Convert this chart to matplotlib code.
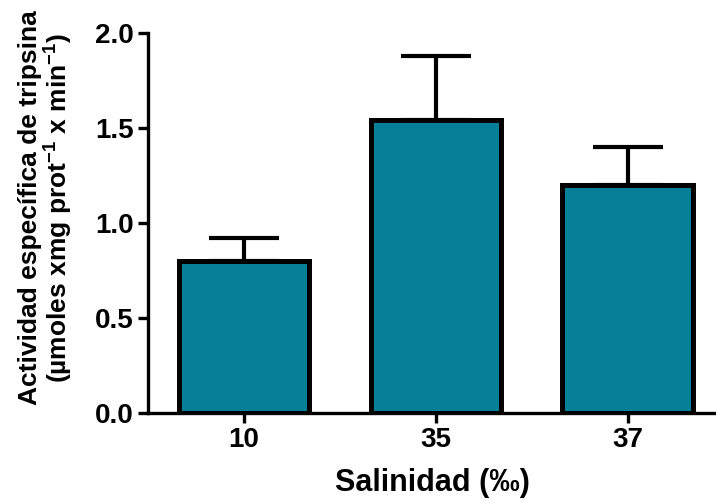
import matplotlib
matplotlib.use("Agg")
import matplotlib.pyplot as plt

# Data
salinity = ["10", "35", "37"]
activity = [0.80, 1.54, 1.20]
sem = [0.12, 0.34, 0.20]
yticks = [0.0, 0.5, 1.0, 1.5, 2.0]
ytick_labels = ["0.0", "0.5", "1.0", "1.5", "2.0"]

plt.rcParams["font.family"] = ["Liberation Sans", "DejaVu Sans"]
plt.rcParams["font.weight"] = "bold"
plt.rcParams["mathtext.fontset"] = "custom"
plt.rcParams["mathtext.rm"] = "Liberation Sans:bold"
plt.rcParams["mathtext.bf"] = "Liberation Sans:bold"
plt.rcParams["mathtext.default"] = "bf"

W, H = 716, 501
fig = plt.figure(figsize=(W / 100, H / 100), dpi=100)
ax = fig.add_axes([148 / W, 88 / H, (W - 148) / W, 380 / H])

x = list(range(len(salinity)))
bar_color = "#087f98"

ax.errorbar(x, activity, yerr=[[0] * len(sem), sem], fmt="none",
            ecolor="black", elinewidth=3.0, capsize=25, capthick=3.0,
            zorder=2)
ax.bar(x, activity, width=0.68, color=bar_color, edgecolor="black",
       linewidth=3.6, zorder=3)

ax.set_xlim(-0.5, 2.46)
ax.set_ylim(0, 2.0)
ax.set_yticks(yticks)
ax.set_yticklabels(ytick_labels)
ax.set_xticks(x)
ax.set_xticklabels(salinity)

for side in ("top", "right"):
    ax.spines[side].set_visible(False)
for side in ("left", "bottom"):
    ax.spines[side].set_linewidth(2.4)
    ax.spines[side].set_zorder(4)

ax.tick_params(axis="both", which="major", direction="out", length=7,
               width=2.4, labelsize=20, pad=3)
for lbl in ax.get_xticklabels() + ax.get_yticklabels():
    lbl.set_fontweight("bold")

ax.set_xlabel("Salinidad (‰)", fontsize=22, fontweight="bold", labelpad=11)
ax.set_ylabel("Actividad específica de tripsina\n"
              r"(µmoles xmg prot$^{-1}$ x min$^{-1}$)",
              fontsize=19, fontweight="bold", labelpad=10, linespacing=1.05)
ax.yaxis.set_label_coords(-0.128, 0.54)

fig.savefig("out.png", dpi=100)
